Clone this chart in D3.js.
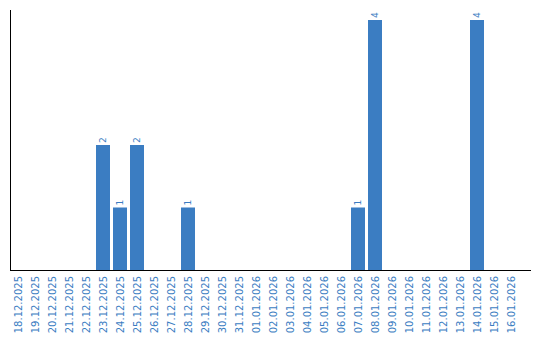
<!DOCTYPE html>
<html><head><meta charset="utf-8">
<script src="https://cdn.jsdelivr.net/npm/d3@7"></script>
<style>body{margin:0;background:#fff}svg{display:block}</style>
</head><body>
<svg id="chart" width="540" height="340"></svg>
<script>
const categories = ["18.12.2025","19.12.2025","20.12.2025","21.12.2025","22.12.2025","23.12.2025","24.12.2025","25.12.2025","26.12.2025","27.12.2025","28.12.2025","29.12.2025","30.12.2025","31.12.2025","01.01.2026","02.01.2026","03.01.2026","04.01.2026","05.01.2026","06.01.2026","07.01.2026","08.01.2026","09.01.2026","10.01.2026","11.01.2026","12.01.2026","13.01.2026","14.01.2026","15.01.2026","16.01.2026"];
const values = [0,0,0,0,0,2,1,2,0,0,1,0,0,0,0,0,0,0,0,0,1,4,0,0,0,0,0,4,0,0];
const yMax = 4;

const color = "#3b7dc2";
const svg = d3.select("#chart");
const x = d3.scaleBand().domain(categories).range([11, 518]).paddingInner(3/17).paddingOuter(0);
const y = d3.scaleLinear().domain([0, yMax]).range([270, 20]);
const data = categories.map((c,i)=>({c, v: values[i]}));

svg.selectAll("rect.bar").data(data.filter(d=>d.v>0)).join("rect")
  .attr("class","bar")
  .attr("x", d=>x(d.c)).attr("width", x.bandwidth())
  .attr("y", d=>y(d.v)).attr("height", d=>y(0)-y(d.v))
  .attr("fill", color);

svg.selectAll("text.val").data(data.filter(d=>d.v>0)).join("text")
  .attr("class","val")
  .attr("transform", d=>`translate(${x(d.c)+x.bandwidth()/2+3},${y(d.v)-2}) rotate(-90)`)
  .attr("font-family","DejaVu Sans").attr("font-size","9px")
  .attr("fill", color).attr("text-anchor","start")
  .text(d=>d.v);

// axes lines
svg.append("line").attr("x1",10.5).attr("x2",10.5).attr("y1",10).attr("y2",270.5)
  .attr("stroke","#000").attr("stroke-width",1);
svg.append("line").attr("x1",10).attr("x2",531).attr("y1",270.5).attr("y2",270.5)
  .attr("stroke","#000").attr("stroke-width",1);

const xAxis = d3.axisBottom(x).tickSize(0).tickPadding(0);
const gx = svg.append("g").attr("transform","translate(0,270)").call(xAxis);
gx.select(".domain").remove();
gx.selectAll("text")
  .attr("font-family","DejaVu Sans").attr("font-size","10px").attr("fill", color)
  .attr("text-anchor","end").attr("dy",null).attr("y",0).attr("x",0)
  .attr("transform","translate(3.5,6) rotate(-90)");
</script>
</body></html>
